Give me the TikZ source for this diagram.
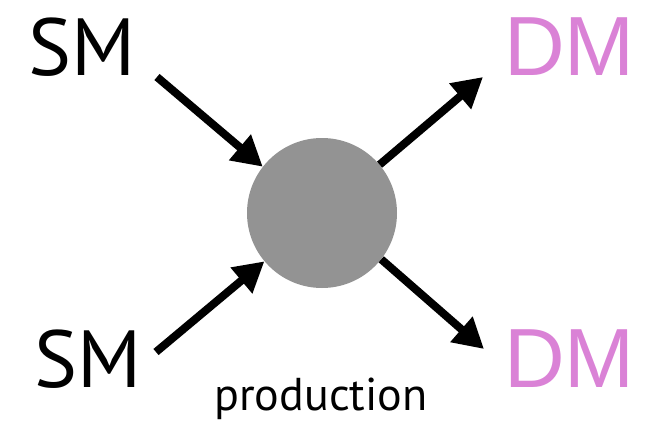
\documentclass[tikz,border=0pt]{standalone}
\usepackage{fontspec}
\setmainfont[Ligatures=NoCommon]{PT Sans}
\newfontfamily\dmfont{Liberation Sans}
\usetikzlibrary{arrows.meta}
\definecolor{dmpink}{HTML}{DA82D6}
\definecolor{blobgrey}{HTML}{939393}
\tikzset{
  smlabel/.style={font=\fontsize{81}{81}\selectfont, text=black, inner sep=0pt, anchor=base west},
  dmlabel/.style={font=\dmfont\fontsize{84}{84}\selectfont, text=dmpink, inner sep=0pt, anchor=base west},
  flow/.style={line width=8pt, -{Triangle[length=30pt,width=32pt]}},
  vertex/.style={circle, fill=blobgrey, minimum size=150pt, inner sep=0pt}
}
\begin{document}
\begin{tikzpicture}[x=1pt,y=-1pt]
  \useasboundingbox (0,0) rectangle (654,423);
  % interaction vertex
  \node[vertex] (blob) at (322,213) {};
  % particle labels
  \node[smlabel] (smA) at (28,75) {SM};
  \node[smlabel] (smB) at (34,387) {SM};
  \node[dmlabel] (dmA) at (504,75) {DM};
  \node[dmlabel] (dmB) at (504,387) {DM};
  \node[font=\fontsize{46}{46}\selectfont, inner sep=0pt, anchor=base] (prod) at (321,410) {production};
  % arrow ends beside the labels
  \coordinate (inA) at (157,77);
  \coordinate (inB) at (156,352);
  \coordinate (outA) at (483,77);
  \coordinate (outB) at (484,349);
  % incoming and outgoing lines
  \draw[flow] (inA) -- (blob.142);
  \draw[flow] (inB) -- (blob.-140);
  \draw[flow] (blob.40) -- (outA);
  \draw[flow] (blob.-38) -- (outB);
\end{tikzpicture}
\end{document}
